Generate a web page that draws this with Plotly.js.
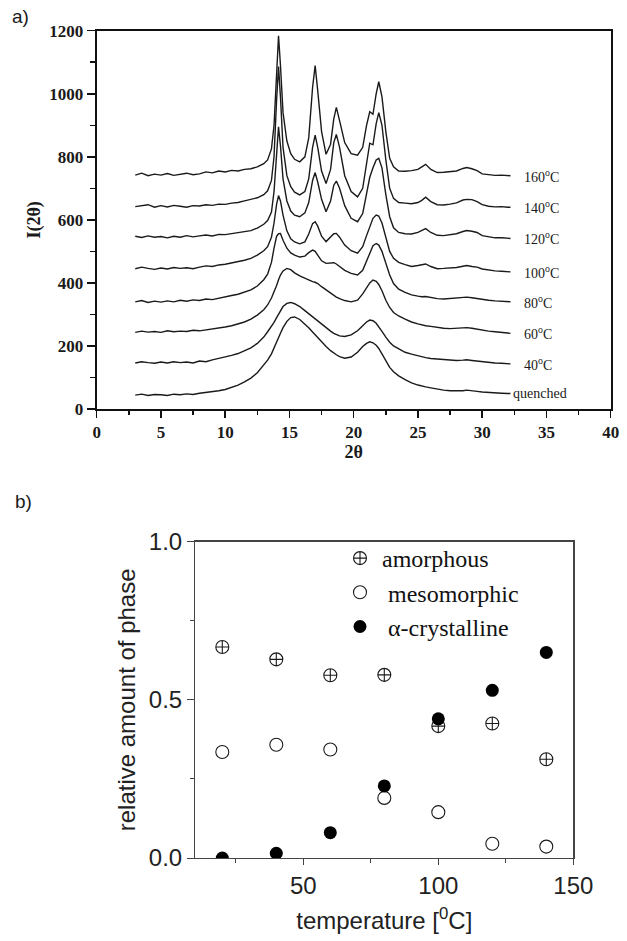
<!DOCTYPE html>
<html>
<head>
<meta charset="utf-8">
<script src="https://cdn.plot.ly/plotly-3.0.1.min.js"></script>
<style>html,body{margin:0;padding:0;background:#fff;}#chart{width:627px;height:941px;}</style>
</head>
<body>
<div id="chart"></div>
<script>
// ---------- panel a) : XRD patterns ----------
const twoTheta = [3,3.5,4,4.5,5,5.5,6,6.5,7,7.5,8,8.5,9,9.5,10,10.5,11,11.5,12,12.5,13,
  13.3,13.6,13.8,14.0,14.15,14.3,14.5,14.8,15.1,15.4,15.8,16.2,16.5,16.8,17.0,17.2,17.5,17.85,18.2,18.45,18.65,18.9,19.3,19.8,20.3,20.7,21.0,21.25,21.5,21.75,21.95,22.2,22.5,22.8,23.1,23.5,
  24,24.5,25,25.3,25.6,26,26.5,27,27.5,28,28.5,28.8,29.2,29.6,30,30.5,31,31.5,32,32.2];

const I160 = [742,748,740,745,742,747,741,745,748,743,746,752,749,755,752,757,755,760,762,768,778,
  790,825,900,1080,1184,1090,940,850,810,792,784,800,860,1020,1089,1010,880,808,840,920,957,915,845,810,805,830,900,943,935,1000,1038,990,880,795,768,755,
  754,756,760,768,776,760,750,751,752,755,763,766,762,756,746,743,741,742,740,740];
const I140 = [642,646,648,640,645,641,646,643,640,645,644,648,646,650,649,653,655,660,664,670,680,
  692,725,800,980,1086,990,830,740,705,688,679,690,730,830,869,830,755,715,760,845,871,830,740,690,673,700,780,843,838,905,940,900,790,700,668,655,
  653,651,655,662,672,658,648,647,650,654,663,665,664,658,648,643,641,642,640,640];
const I120 = [548,544,549,545,547,543,548,545,550,546,549,552,549,554,553,556,558,562,566,574,586,
  598,625,690,820,895,835,730,660,628,615,610,622,655,725,750,720,665,626,660,710,723,700,645,605,594,620,680,735,765,790,795,765,680,610,575,560,
  556,555,560,566,572,560,551,550,552,556,563,566,564,560,550,546,543,543,541,541];
const I100 = [445,450,446,443,447,444,449,446,448,445,450,454,452,457,459,463,467,472,478,488,502,
  515,545,590,650,677,660,615,565,540,530,524,530,555,588,594,580,548,531,545,556,557,545,520,502,494,515,550,580,605,615,612,590,545,500,478,465,
  458,452,455,458,460,452,445,446,447,449,453,455,452,450,444,440,438,437,435,435];
const I80 = [340,344,338,342,339,343,340,345,342,346,344,349,347,352,355,360,364,370,378,390,410,
  428,465,510,548,556,557,535,510,495,488,482,485,496,504,500,488,470,462,462,464,460,452,440,430,425,440,468,495,518,525,520,500,462,425,398,380,
  370,362,358,356,357,353,350,349,350,352,354,355,353,350,347,345,343,342,340,340];
const I60 = [243,247,244,246,243,248,245,247,246,250,248,251,252,256,260,264,270,276,285,298,315,
  330,352,370,392,410,425,438,446,442,432,422,414,408,404,402,398,388,378,366,358,355,350,344,340,345,365,385,400,409,405,395,375,345,322,306,295,
  285,276,270,266,264,262,258,256,255,256,257,258,256,253,250,247,245,243,241,240];
const I40 = [146,150,147,145,149,146,150,147,149,146,152,150,156,160,165,170,176,184,194,208,228,
  245,262,275,290,302,312,325,335,338,334,325,312,302,292,285,279,268,256,247,240,236,232,230,235,248,265,276,282,280,272,262,246,228,212,200,190,
  180,174,168,165,163,160,158,157,155,154,155,156,154,152,150,148,146,145,143,143];
const Iquenched = [44,47,43,46,45,43,47,45,48,46,50,52,55,58,62,68,76,86,98,115,138,
  155,175,192,210,225,240,258,278,290,292,284,270,258,244,235,226,212,198,185,177,172,166,161,165,180,198,208,213,210,202,192,175,152,132,118,105,
  93,83,76,72,70,67,63,60,58,57,58,60,59,56,54,52,51,50,49,49];

const curveSeries = [I160, I140, I120, I100, I80, I60, I40, Iquenched];
const curveLabels = ['160<sup>o</sup>C','140<sup>o</sup>C','120<sup>o</sup>C','100<sup>o</sup>C','80<sup>o</sup>C','60<sup>o</sup>C','40<sup>o</sup>C','quenched'];

const xTickVals = [0,5,10,15,20,25,30,35,40];
const yTickVals = [0,200,400,600,800,1000,1200];

// ---------- panel b) : phase fractions ----------
const temperature = [20,40,60,80,100,120,140];
const amorphous   = [0.667,0.628,0.578,0.579,0.417,0.425,0.312];
const mesomorphic = [0.335,0.358,0.343,0.190,0.145,0.045,0.036];
const crystalline = [0.000,0.015,0.080,0.228,0.440,0.530,0.650];
const phaseNames = ['amorphous','\u00a0mesomorphic','\u00a0\u03b1-crystalline'];

// ---------- build ----------
const serif = 'Liberation Serif, Times New Roman, serif';
const sans = 'Liberation Sans, Arial, sans-serif';
const ink = '#1a1a1a';

const traces = [];
const annotations = [];
curveSeries.forEach((ys, i) => {
  traces.push({
    type: 'scatter', mode: 'lines', x: twoTheta, y: ys, xaxis: 'x', yaxis: 'y',
    line: {color: ink, width: 1.4}, showlegend: false, hoverinfo: 'skip'
  });
  const lastX = twoTheta[twoTheta.length - 1];
  const lastY = ys[ys.length - 1];
  const isQ = curveLabels[i] === 'quenched';
  annotations.push({
    xref: 'x', yref: 'y', x: lastX + (isQ ? 0.05 : 0.9), y: lastY,
    text: curveLabels[i], showarrow: false, xanchor: 'left', yanchor: 'middle',
    font: {family: serif, size: 14, color: ink}
  });
});

traces.push({
  type: 'scatter', mode: 'markers', name: phaseNames[0], x: temperature, y: amorphous,
  xaxis: 'x2', yaxis: 'y2',
  marker: {symbol: 'circle-cross-open', size: 13, color: ink, line: {width: 1.1, color: ink}}
});
traces.push({
  type: 'scatter', mode: 'markers', name: phaseNames[1], x: temperature, y: mesomorphic,
  xaxis: 'x2', yaxis: 'y2',
  marker: {symbol: 'circle-open', size: 13, color: ink, line: {width: 1.1, color: ink}}
});
traces.push({
  type: 'scatter', mode: 'markers', name: phaseNames[2], x: temperature, y: crystalline,
  xaxis: 'x2', yaxis: 'y2',
  marker: {symbol: 'circle', size: 13, color: '#000', line: {width: 0}}
});

annotations.push({xref: 'paper', yref: 'paper', x: 20/627, y: 1 - 17/941, text: 'a)', showarrow: false,
  xanchor: 'center', yanchor: 'middle', font: {family: sans, size: 19, color: ink}});
annotations.push({xref: 'paper', yref: 'paper', x: 23/627, y: 1 - 502/941, text: 'b)', showarrow: false,
  xanchor: 'center', yanchor: 'middle', font: {family: sans, size: 19, color: ink}});

const topTickFont = {family: serif, size: 17, color: ink, weight: 'bold'};
const botTickFont = {family: sans, size: 24, color: '#222'};

const layout = {
  width: 627, height: 941,
  margin: {l: 0, r: 0, t: 0, b: 0},
  paper_bgcolor: '#fff', plot_bgcolor: '#fff',
  showlegend: true,
  xaxis: {
    domain: [96.7/627, 610.7/627], anchor: 'y', range: [0, 40],
    tickmode: 'array', tickvals: xTickVals,
    ticks: 'outside', ticklen: 7, tickwidth: 1.5, tickcolor: '#111',
    minor: {dtick: 2.5, tick0: 0, ticks: 'outside', ticklen: 4, tickwidth: 1.5, tickcolor: '#111', showgrid: false},
    showline: true, linewidth: 2, linecolor: '#111', mirror: true,
    showgrid: false, zeroline: false, automargin: false,
    tickfont: topTickFont,
    title: {text: '2\u03b8', font: {family: serif, size: 18, color: ink, weight: 'bold'}, standoff: 0}
  },
  yaxis: {
    domain: [1 - 409/941, 1 - 30.7/941], anchor: 'x', range: [0, 1200],
    tickmode: 'array', tickvals: yTickVals,
    ticks: 'outside', ticklen: 8, tickwidth: 1.5, tickcolor: '#111',
    minor: {dtick: 100, tick0: 0, ticks: 'outside', ticklen: 5, tickwidth: 1.5, tickcolor: '#111', showgrid: false},
    showline: true, linewidth: 2, linecolor: '#111', mirror: true,
    showgrid: false, zeroline: false, automargin: false,
    tickfont: topTickFont,
    title: {text: 'I(2\u03b8)', font: {family: serif, size: 18, color: ink, weight: 'bold'}, standoff: 4}
  },
  xaxis2: {
    domain: [195.3/627, 573.3/627], anchor: 'y2', range: [10, 150],
    tick0: 0, dtick: 50,
    ticks: 'outside', ticklen: 6, tickwidth: 1, tickcolor: '#444',
    minor: {dtick: 25, tick0: 0, ticks: 'outside', ticklen: 4, tickwidth: 1, tickcolor: '#444', showgrid: false},
    showline: true, linewidth: 1.3, linecolor: '#444', mirror: true,
    showgrid: false, zeroline: false, automargin: false,
    tickfont: botTickFont,
    title: {text: 'temperature [<sup>0</sup>C]', font: {family: sans, size: 24, color: '#222'}, standoff: 14}
  },
  yaxis2: {
    domain: [1 - 858/941, 1 - 541.7/941], anchor: 'x2', range: [0, 1],
    tick0: 0, dtick: 0.5, tickformat: '.1f',
    ticks: 'outside', ticklen: 7, tickwidth: 1, tickcolor: '#444',
    minor: {dtick: 0.25, tick0: 0, ticks: 'outside', ticklen: 4, tickwidth: 1, tickcolor: '#444', showgrid: false},
    showline: true, linewidth: 1.3, linecolor: '#444', mirror: true,
    showgrid: false, zeroline: false, automargin: false,
    tickfont: botTickFont,
    title: {text: 'relative amount of phase', font: {family: sans, size: 24, color: '#222'}, standoff: 6}
  },
  legend: {
    x: 338/627, y: 1 - 536/941, xanchor: 'left', yanchor: 'top',
    bgcolor: 'rgba(0,0,0,0)', borderwidth: 0,
    font: {family: serif, size: 24, color: '#111'},
    tracegroupgap: 0, itemwidth: 34
  },
  annotations: annotations
};

Plotly.newPlot('chart', traces, layout, {staticPlot: true, displayModeBar: false});
</script>
</body>
</html>
